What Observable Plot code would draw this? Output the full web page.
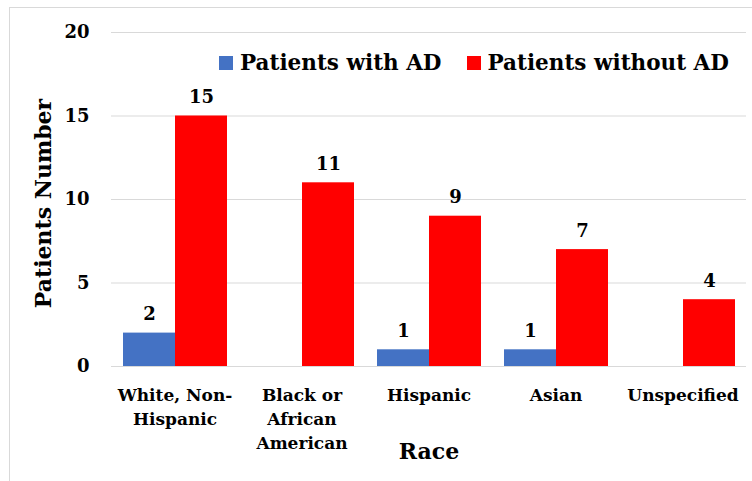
<!DOCTYPE html>
<html>
<head>
<meta charset="utf-8">
<script src="https://cdn.jsdelivr.net/npm/d3@7"></script>
<script src="https://cdn.jsdelivr.net/npm/@observablehq/plot@0.6"></script>
<style>
  html, body { margin: 0; padding: 0; background: #fff; }
  #wrap { position: relative; width: 752px; height: 481px; overflow: hidden; }
  #border { position: absolute; left: 9px; top: 7px; width: 760px; height: 500px;
            border-left: 1.5px solid #d9d9d9; border-top: 1.5px solid #d9d9d9; pointer-events: none; }
  #legend { position: absolute; top: 50px; left: 219px; display: flex; align-items: center;
            font-family: "DejaVu Serif", serif; font-weight: bold; font-size: 21.5px; color: #000; white-space: nowrap; }
  #legend .sw { display: inline-block; width: 14px; height: 14px; margin-right: 7px; }
  #legend .item { display: flex; align-items: center; margin-right: 25px; }
</style>
</head>
<body>
<div id="wrap">
  <div id="chart"></div>
  <div id="border"></div>
  <div id="legend"></div>
</div>
<script>
const races = ["White, Non-Hispanic", "Black or African American", "Hispanic", "Asian", "Unspecified"];
const raceTickLabels = ["White, Non-\nHispanic", "Black or\nAfrican\nAmerican", "Hispanic", "Asian", "Unspecified"];
const seriesNames = ["Patients with AD", "Patients without AD"];
const withAD = [2, 0, 1, 1, 0];
const withoutAD = [15, 11, 9, 7, 4];
const seriesColors = ["#4472C4", "#FF0000"];
const yTicks = [0, 5, 10, 15, 20];

const data = [];
races.forEach((r, i) => {
  data.push({race: r, series: seriesNames[0], value: withAD[i]});
  data.push({race: r, series: seriesNames[1], value: withoutAD[i]});
});
const labelMap = new Map(races.map((r, i) => [r, raceTickLabels[i]]));

const font = "DejaVu Serif";

const chart = Plot.plot({
  width: 752,
  height: 481,
  marginLeft: 109,
  marginRight: 5,
  marginTop: 32,
  marginBottom: 115,
  style: {fontFamily: font, fontWeight: "bold", color: "#000", background: "transparent"},
  fx: {domain: races, padding: 0, label: null},
  x: {domain: seriesNames, paddingInner: 0, paddingOuter: 0.2, axis: null},
  y: {domain: [0, 20], label: null},
  color: {domain: seriesNames, range: seriesColors},
  marks: [
    Plot.gridY(yTicks, {stroke: "#d9d9d9", strokeOpacity: 1, strokeWidth: 1}),
    Plot.barY(data, {fx: "race", x: "series", y: "value", fill: "series"}),
    Plot.text(data.filter(d => d.value > 0), {fx: "race", x: "series", y: "value", text: d => String(d.value),
      fontSize: 18, fontWeight: "bold", lineAnchor: "bottom", dy: -13, fill: "#000"}),
    Plot.axisY(yTicks, {tickSize: 0, tickPadding: 22, fontSize: 18, fontWeight: "bold", label: null, fill: "#000"}),
    Plot.axisFx({anchor: "bottom", tickSize: 0, tickPadding: 18, fontSize: 17, fontWeight: "bold",
      lineHeight: 1.4, tickFormat: d => labelMap.get(d), label: null, fill: "#000", lineAnchor: "top"}),
    Plot.text(["Patients Number"], {facet: "super", frameAnchor: "left", textAnchor: "middle", rotate: -90, dx: -68, dy: 4,
      fontSize: 22, fontWeight: "bold", fill: "#000"}),
    Plot.text(["Race"], {facet: "super", frameAnchor: "bottom", dy: 92, fontSize: 22, fontWeight: "bold", fill: "#000"})
  ]
});
document.getElementById("chart").appendChild(chart);

const legend = document.getElementById("legend");
seriesNames.forEach((s, i) => {
  const item = document.createElement("span");
  item.className = "item";
  const sw = document.createElement("span");
  sw.className = "sw";
  sw.style.background = seriesColors[i];
  item.appendChild(sw);
  item.appendChild(document.createTextNode(s));
  legend.appendChild(item);
});
</script>
</body>
</html>
